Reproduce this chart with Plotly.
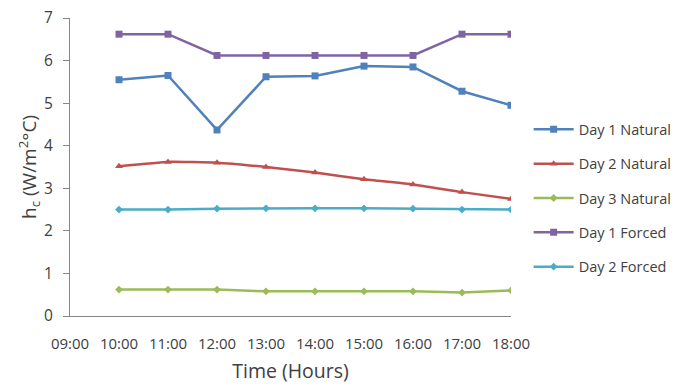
import plotly.graph_objects as go

categories = ["09:00", "10:00", "11:00", "12:00", "13:00", "14:00", "15:00", "16:00", "17:00", "18:00"]
hours = ["10:00", "11:00", "12:00", "13:00", "14:00", "15:00", "16:00", "17:00", "18:00"]

day1_natural = [5.55, 5.65, 4.37, 5.62, 5.64, 5.87, 5.85, 5.28, 4.95]
day2_natural = [3.52, 3.62, 3.60, 3.50, 3.37, 3.21, 3.09, 2.91, 2.75]
day3_natural = [0.62, 0.62, 0.62, 0.58, 0.58, 0.58, 0.58, 0.55, 0.60]
day1_forced = [6.62, 6.62, 6.12, 6.12, 6.12, 6.12, 6.12, 6.62, 6.62]
day2_forced = [2.50, 2.50, 2.52, 2.53, 2.53, 2.53, 2.52, 2.50, 2.50]

series = [
    ("Day 1 Natural", day1_natural, "#4F81BD", "square", 7, "linear"),
    ("Day 2 Natural", day2_natural, "#C0504D", "triangle-up", 7, "spline"),
    ("Day 3 Natural", day3_natural, "#9BBB59", "diamond", 6, "linear"),
    ("Day 1 Forced", day1_forced, "#8064A2", "square", 7, "linear"),
    ("Day 2 Forced", day2_forced, "#4BACC6", "diamond", 6, "linear"),
]

fig = go.Figure()
for i, (name, vals, color, sym, size, shape) in enumerate(series):
    fig.add_trace(go.Scatter(
        x=hours, y=vals, name=name, mode="lines+markers",
        line=dict(color=color, width=2.5, shape=shape, smoothing=0.4),
        marker=dict(symbol=sym, size=size, color=color),
        legendgroup=f"g{i}",
    ))

font = "Open Sans, Liberation Sans, sans-serif"
# the page body adds an 8px offset, so the figure is 8px smaller than the window
fig.update_layout(
    width=674, height=377,
    margin=dict(l=62, r=171, t=10, b=69, autoexpand=False),
    paper_bgcolor="white", plot_bgcolor="white",
    font=dict(family=font, size=14, color="#404040"),
    showlegend=True,
    legend=dict(x=1.04, y=0.68, xanchor="left", yanchor="top",
                font=dict(size=14.5, color="#404040"), tracegroupgap=12.5,
                itemwidth=40, bgcolor="rgba(0,0,0,0)"),
    xaxis=dict(type="category", categoryorder="array", categoryarray=categories,
               range=[0, 9], showline=True, linecolor="#868686", linewidth=1,
               showgrid=False, ticks="", tickfont=dict(size=15), automargin=False,
               ticklabelstandoff=14, ticklabeloverflow="allow",
               title=dict(text="Time (Hours)", font=dict(size=19.5), standoff=12)),
    yaxis=dict(range=[0, 7], dtick=1, showline=True, linecolor="#868686", linewidth=1,
               showgrid=False, ticks="outside", ticklen=6, tickcolor="#868686",
               tickfont=dict(size=15.5), zeroline=False, automargin=False,
               ticklabelstandoff=7, ticklabeloverflow="allow",
               title=dict(text="h<sub>c</sub> (W/m<sup>2</sup>°C)", font=dict(size=19), standoff=0)),
)

fig.write_html("out.html")
